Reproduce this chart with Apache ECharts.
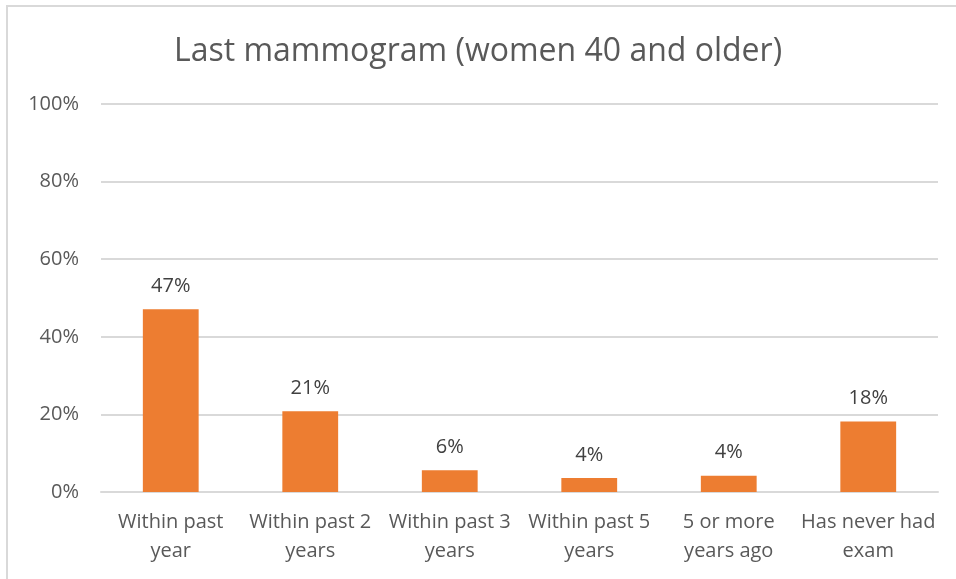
<!DOCTYPE html>
<html>
<head>
<meta charset="utf-8">
<script src="https://cdn.jsdelivr.net/npm/echarts@6/dist/echarts.min.js"></script>
<style>
	html, body { margin: 0; padding: 0; background: #fff; }
	#chart { width: 956px; height: 579px; }
</style>
</head>
<body>
<div id="chart"></div>
<script>
	const titleText = "Last mammogram (women 40 and older)";
	const categories = [
		"Within past\nyear",
		"Within past 2\nyears",
		"Within past 3\nyears",
		"Within past 5\nyears",
		"5 or more\nyears ago",
		"Has never had\nexam"
	];
	// share of women, percent (bar heights)
	const shares = [47.1, 20.8, 5.6, 3.6, 4.2, 18.2];
	const yTicks = { min: 0, max: 100, interval: 20 };

	const font = "'Open Sans', sans-serif";
	const chart = echarts.init(document.getElementById("chart"), null, { renderer: "canvas" });

	chart.setOption({
		animation: false,
		backgroundColor: "#ffffff",
		title: {
			text: titleText,
			left: "center",
			top: 31,
			textStyle: {
				fontFamily: font,
				fontSize: 32,
				fontWeight: "normal",
				color: "#595959"
			}
		},
		graphic: [
			{
				type: "rect",
				shape: { x: 7, y: 6, width: 1000, height: 1000 },
				style: { fill: "none", stroke: "#d9d9d9", lineWidth: 2 },
				silent: true
			}
		],
		grid: {
			left: 101,
			right: 18,
			top: 104,
			bottom: 87
		},
		xAxis: {
			type: "category",
			data: categories,
			axisTick: { show: false },
			axisLine: { show: true, lineStyle: { color: "#d9d9d9", width: 2 } },
			axisLabel: {
				interval: 0,
				margin: 16,
				fontFamily: font,
				fontSize: 20,
				lineHeight: 29,
				color: "#595959"
			}
		},
		yAxis: {
			type: "value",
			min: yTicks.min,
			max: yTicks.max,
			interval: yTicks.interval,
			axisLine: { show: false },
			axisTick: { show: false },
			splitLine: { lineStyle: { color: "#d9d9d9", width: 2 } },
			axisLabel: {
				margin: 22,
				fontFamily: font,
				fontSize: 20,
				color: "#595959",
				formatter: v => v + "%"
			}
		},
		series: [
			{
				type: "bar",
				data: shares,
				barWidth: "40%",
				itemStyle: { color: "#ed7d31" },
				label: {
					show: true,
					position: "top",
					distance: 13,
					fontFamily: font,
					fontSize: 20,
					color: "#404040",
					formatter: p => Math.round(p.value) + "%"
				}
			}
		]
	});
</script>
</body>
</html>
